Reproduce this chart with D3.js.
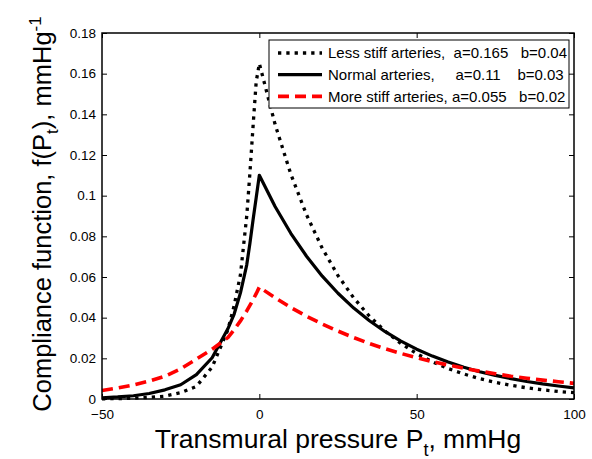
<!DOCTYPE html>
<html>
<head>
<meta charset="utf-8">
<script src="https://cdn.jsdelivr.net/npm/d3@7"></script>
<style>
    body, html {
        margin: 0;
        padding: 0;
        background: white;
        font-family: Arial, "Liberation Sans", sans-serif;
    }
    .legend-text {
        white-space: pre;
    }
</style>
</head>
<body>
<div id="container"></div>
<script>
// transmural pressure samples, mmHg
const pressure = [-50, -45, -40, -35, -30, -25, -20, -15, -10, -8, -6, -4, -3, -2, -1, 0,
    5, 10, 15, 20, 25, 30, 35, 40, 45, 50, 55, 60, 65, 70, 75, 80, 85, 90, 95, 100];

// compliance values
const lessStiff = [0.0001, 0.0002, 0.0004, 0.0008, 0.0014, 0.0031, 0.0062, 0.0157, 0.0340, 0.0460, 0.0612, 0.0900, 0.1110, 0.1340, 0.1560, 0.1650,
    0.1351, 0.1106, 0.0906, 0.0741, 0.0607, 0.0497, 0.0407, 0.0333, 0.0273, 0.0223, 0.0183, 0.0150, 0.0123, 0.0100, 0.0082, 0.0067, 0.0055, 0.0045, 0.0037, 0.0031];
const normal = [0.0006, 0.0010, 0.0016, 0.0027, 0.0045, 0.0070, 0.0120, 0.0203, 0.0345, 0.0418, 0.0522, 0.0660, 0.0765, 0.0880, 0.0990, 0.1100,
    0.0947, 0.0815, 0.0702, 0.0604, 0.0520, 0.0447, 0.0385, 0.0331, 0.0285, 0.0245, 0.0211, 0.0182, 0.0156, 0.0134, 0.0116, 0.0100, 0.0086, 0.0074, 0.0064, 0.0055];
const moreStiff = [0.0042, 0.0054, 0.0069, 0.0088, 0.0112, 0.0148, 0.0196, 0.0245, 0.0302, 0.0341, 0.0384, 0.0433, 0.0460, 0.0488, 0.0518, 0.0550,
    0.0498, 0.0450, 0.0407, 0.0369, 0.0334, 0.0302, 0.0273, 0.0247, 0.0224, 0.0203, 0.0184, 0.0167, 0.0151, 0.0137, 0.0124, 0.0112, 0.0102, 0.0093, 0.0085, 0.0077];

const legendLabels = [
    "Less stiff arteries,  a=0.165   b=0.04",
    "Normal arteries,     a=0.11    b=0.03",
    "More stiff arteries, a=0.055   b=0.02"
];

const xTicks = [-50, 0, 50, 100];
const yTicks = [0, 0.02, 0.04, 0.06, 0.08, 0.1, 0.12, 0.14, 0.16, 0.18];

const width = 592, height = 459;
const margin = { top: 33, right: 18, bottom: 60, left: 102 };
const innerW = width - margin.left - margin.right;
const innerH = height - margin.top - margin.bottom;

const series = [
    { values: lessStiff, color: "#000", width: 3.3, dash: "3.3,5" },
    { values: normal, color: "#000", width: 3.2, dash: null },
    { values: moreStiff, color: "#ff0000", width: 3.6, dash: "11,6" }
];

const svg = d3.select("#container").append("svg")
    .attr("width", width)
    .attr("height", height)
    .style("display", "block");

const g = svg.append("g").attr("transform", `translate(${margin.left},${margin.top})`);

const x = d3.scaleLinear().domain([-50, 100]).range([0, innerW]);
const y = d3.scaleLinear().domain([0, 0.18]).range([innerH, 0]);

const fmt = d => d3.format("~g")(d);

// axes, MATLAB style: ticks inside on all four sides
g.append("g")
    .attr("transform", `translate(0,${innerH})`)
    .call(d3.axisBottom(x).tickValues(xTicks).tickSizeInner(-5).tickSizeOuter(0).tickPadding(10).tickFormat(fmt))
    .call(a => a.select(".domain").remove());
g.append("g")
    .call(d3.axisTop(x).tickValues(xTicks).tickSizeInner(-5).tickSizeOuter(0).tickFormat(""))
    .call(a => a.select(".domain").remove());
g.append("g")
    .call(d3.axisLeft(y).tickValues(yTicks).tickSizeInner(-5).tickSizeOuter(0).tickPadding(6).tickFormat(fmt))
    .call(a => a.select(".domain").remove());
g.append("g")
    .attr("transform", `translate(${innerW},0)`)
    .call(d3.axisRight(y).tickValues(yTicks).tickSizeInner(-5).tickSizeOuter(0).tickFormat(""))
    .call(a => a.select(".domain").remove());

g.selectAll(".tick text")
    .attr("font-family", "Arial, 'Liberation Sans', sans-serif")
    .attr("font-size", 13.5)
    .attr("fill", "#000");
g.selectAll(".tick line").attr("stroke", "#000").attr("stroke-width", 1);

// curves
const line = d3.line()
    .x((d, i) => x(pressure[i]))
    .y(d => y(d));

g.append("g")
    .selectAll("path")
    .data(series)
    .join("path")
    .attr("d", d => line(d.values))
    .attr("fill", "none")
    .attr("stroke", d => d.color)
    .attr("stroke-width", d => d.width)
    .attr("stroke-dasharray", d => d.dash)
    .attr("stroke-linejoin", "round");

// frame
g.append("rect")
    .attr("width", innerW)
    .attr("height", innerH)
    .attr("fill", "none")
    .attr("stroke", "#000")
    .attr("stroke-width", 1.5);

// legend
const legend = svg.append("g").attr("transform", "translate(269,40)");
legend.append("rect")
    .attr("width", 300)
    .attr("height", 68)
    .attr("fill", "#fff")
    .attr("stroke", "#000")
    .attr("stroke-width", 1);

const rows = legend.selectAll(".row")
    .data(series)
    .join("g")
    .attr("class", "row")
    .attr("transform", (d, i) => `translate(0,${13 + i * 21.7})`);
rows.append("line")
    .attr("x1", 9).attr("x2", 53)
    .attr("stroke", d => d.color)
    .attr("stroke-width", d => d.width)
    .attr("stroke-dasharray", d => d.dash);
rows.append("text")
    .attr("class", "legend-text")
    .attr("x", 59)
    .attr("dy", "0.35em")
    .attr("font-size", 15)
    .text((d, i) => legendLabels[i]);

// axis labels
const xl = svg.append("text")
    .attr("x", margin.left + innerW / 2)
    .attr("y", 448)
    .attr("text-anchor", "middle")
    .attr("font-size", 26.5);
xl.append("tspan").text("Transmural pressure P");
xl.append("tspan").attr("dy", 8).attr("font-size", 18).text("t");
xl.append("tspan").attr("dy", -8).text(", mmHg");

const yl = svg.append("text")
    .attr("transform", `translate(51,${margin.top + innerH / 2 - 2}) rotate(-90)`)
    .attr("text-anchor", "middle")
    .attr("font-size", 25.5);
yl.append("tspan").text("Compliance function, f(P");
yl.append("tspan").attr("dy", 7).attr("font-size", 17).text("t");
yl.append("tspan").attr("dy", -7).text("), mmHg");
yl.append("tspan").attr("dy", -10).attr("font-size", 17).text("-1");
</script>
</body>
</html>
